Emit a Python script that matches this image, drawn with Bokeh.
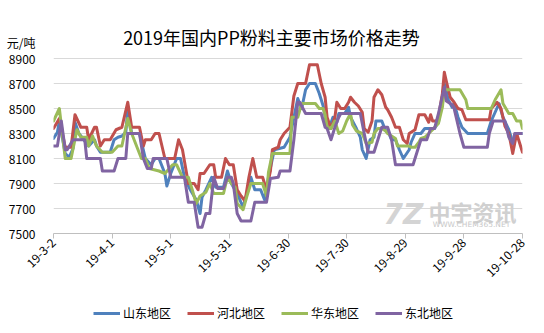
import math
from datetime import datetime
from bokeh.plotting import figure
from bokeh.layouts import column
from bokeh.models import (FixedTicker, Label, Legend, LegendItem, Range1d)
from bokeh.embed import file_html
from bokeh.resources import INLINE

YEAR = 2019
TITLE = "2019年国内PP粉料主要市场价格走势"
UNIT = "元/吨"
FONT = "Noto Sans CJK SC"

series_names = ["山东地区", "河北地区", "华东地区", "东北地区"]
series_colors = ["#4F81BD", "#C0504D", "#9BBB59", "#8064A2"]

# 山东地区
blue_dates = ["3-2","3-4","3-5","3-8","3-10","3-12","3-13","3-15","3-17","3-20",
              "3-23","3-24","3-26","3-31","4-2","4-4","4-6","4-8","4-9","4-11",
              "4-15","4-18","4-21","4-23","4-25","4-28","4-29","5-1","5-4","5-6",
              "5-8","5-11","5-14","5-16","5-17","5-19","5-22","5-24","5-28","5-30",
              "6-1","6-4","6-7","6-9","6-11","6-13","6-16","6-18","6-20","6-23",
              "6-28","7-1","7-2","7-5","7-7","7-9","7-11","7-14","7-16","7-18",
              "7-20","7-21","7-23","7-25","7-26","7-29","7-31","8-1","8-4","8-6",
              "8-7","8-9","8-11","8-13","8-14","8-17","8-19","8-20","8-22","8-24",
              "8-26","8-28","8-31","9-1","9-3","9-6","9-8","9-13","9-15","9-16",
              "9-18","9-20","9-22","9-23","9-25","9-27","9-30","10-10","10-12","10-16",
              "10-18","10-21","10-23","10-25","10-28"]
blue_vals = [8260,8310,8400,8140,8110,8180,8390,8300,8260,8200,
             8250,8200,8150,8150,8250,8270,8280,8310,8490,8300,
             8300,8100,8050,8100,8100,7980,7880,7980,8100,8100,
             7950,7850,7770,7660,7790,7850,7950,7870,7870,8000,
             7900,7820,7710,7820,7950,7850,7850,7770,7950,8170,
             8190,8270,8350,8580,8500,8650,8700,8700,8620,8520,
             8350,8340,8430,8390,8460,8460,8510,8430,8340,8270,
             8170,8100,8250,8270,8400,8400,8320,8320,8250,8250,
             8170,8100,8170,8230,8300,8300,8340,8340,8390,8490,
             8700,8570,8510,8540,8430,8350,8300,8300,8400,8540,
             8430,8330,8230,8300,8300]

# 河北地区
red_dates = ["3-2","3-5","3-8","3-11","3-13","3-16","3-19","3-20","3-23","3-24",
             "3-26","3-28","3-31","4-3","4-6","4-9","4-11","4-15","4-17","4-18",
             "4-21","4-23","4-25","4-28","5-3","5-5","5-7","5-10","5-13","5-15",
             "5-16","5-18","5-21","5-23","5-24","5-27","5-29","5-31","6-2","6-4",
             "6-6","6-8","6-10","6-12","6-14","6-17","6-19","6-21","6-22","6-25",
             "6-26","6-28","7-1","7-3","7-5","7-9","7-11","7-15","7-17","7-19",
             "7-20","7-22","7-24","7-25","7-27","7-29","7-31","8-1","8-3","8-5",
             "8-7","8-8","8-10","8-12","8-13","8-15","8-17","8-19","8-20","8-22",
             "8-24","8-26","8-28","8-30","8-31","9-3","9-5","9-8","9-10","9-11",
             "9-12","9-14","9-15","9-17","9-18","9-19","9-21","9-23","9-25","9-27",
             "9-29","10-11","10-12","10-15","10-17","10-19","10-21","10-23","10-25","10-28"]
red_vals = [8340,8420,8190,8190,8450,8350,8350,8250,8350,8350,
            8200,8250,8250,8330,8350,8550,8350,8350,8200,8250,
            8250,8300,8300,8100,8100,8250,8170,7900,7900,7850,
            7980,7980,8050,8050,7950,7950,8100,8050,8050,7850,
            7800,7760,7950,8100,7950,7950,7850,8000,8170,8190,
            8250,8300,8350,8600,8700,8700,8850,8850,8700,8590,
            8430,8340,8430,8550,8500,8500,8550,8590,8550,8520,
            8470,8340,8310,8400,8590,8650,8610,8510,8490,8430,
            8350,8350,8250,8220,8300,8330,8450,8450,8390,8450,
            8400,8400,8430,8620,8790,8720,8590,8550,8500,8490,
            8410,8410,8500,8550,8500,8360,8300,8140,8300,8150]

# 华东地区
green_dates = ["3-2","3-5","3-8","3-11","3-14","3-16","3-19","3-20","3-22","3-24",
               "3-27","4-1","4-4","4-6","4-9","4-11","4-16","4-18","4-20","4-25",
               "4-28","5-2","5-4","5-7","5-10","5-12","5-14","5-16","5-19","5-21",
               "5-23","5-28","5-30","6-1","6-3","6-4","6-7","6-9","6-11","6-17",
               "6-19","6-20","6-22","7-1","7-2","7-5","7-7","7-14","7-16","7-18",
               "7-19","7-20","7-22","7-24","7-26","7-28","7-30","8-1","8-2","8-4",
               "8-7","8-9","8-12","8-13","8-15","8-17","8-19","8-20","8-24","8-25",
               "8-31","9-1","9-3","9-5","9-6","9-8","9-10","9-12","9-13","9-15",
               "9-17","9-18","9-26","9-29","9-30","10-12","10-14","10-17","10-18","10-21",
               "10-23","10-25","10-27","10-28"]
green_vals = [8400,8500,8100,8100,8330,8270,8270,8200,8280,8200,
              8150,8150,8200,8200,8420,8300,8100,8100,8020,8000,
              7980,8050,8050,7950,7950,7850,7740,7800,7830,7900,
              7820,7820,7950,7900,7870,7740,7690,7800,7900,7900,
              7800,7990,8140,8140,8430,8430,8540,8540,8500,8500,
              8450,8350,8340,8400,8300,8320,8400,8460,8370,8320,
              8300,8220,8230,8300,8340,8340,8320,8300,8260,8200,
              8200,8190,8190,8230,8260,8270,8300,8330,8350,8380,
              8510,8650,8650,8570,8500,8500,8570,8650,8540,8460,
              8460,8400,8400,8340]

# 东北地区
purple_dates = ["3-2","3-4","3-6","3-8","3-9","3-12","3-18","3-19","3-26","3-27",
                "4-2","4-4","4-8","4-9","4-15","4-17","4-19","4-21","4-22","4-29",
                "5-1","5-8","5-10","5-13","5-15","5-17","5-19","5-21","5-23","5-25",
                "5-28","5-30","6-1","6-2","6-4","6-6","6-11","6-13","6-19","6-21",
                "6-25","6-26","7-1","7-3","7-5","7-6","7-9","7-17","7-19","7-20",
                "7-22","7-24","7-26","7-27","8-6","8-8","8-10","8-13","8-15","8-17",
                "8-20","8-22","8-24","9-2","9-4","9-6","9-9","9-11","9-13","9-15",
                "9-18","9-19","9-22","9-23","9-26","9-28","10-10","10-11","10-13","10-19",
                "10-21","10-23","10-24","10-28"]
purple_vals = [8200,8200,8400,8170,8170,8250,8250,8100,8100,8000,
               8000,8100,8100,8300,8300,8100,8020,8020,8100,8100,
               7950,7950,7750,7750,7550,7550,7660,7660,7950,7860,
               7860,7950,7950,7900,7660,7600,7600,7750,7750,7940,
               7950,8000,8000,8250,8550,8550,8460,8460,8350,8340,
               8250,8350,8430,8460,8460,8300,8150,8150,8250,8350,
               8350,8250,8050,8050,8150,8250,8250,8340,8340,8460,
               8670,8560,8530,8500,8300,8190,8190,8300,8400,8400,
               8270,8220,8300,8300]

tick_dates = ["3-2","4-1","5-1","5-31","6-30","7-30","8-29","9-28","10-28"]
tick_labels = ["19-3-2","19-4-1","19-5-1","19-5-31","19-6-30","19-7-30","19-8-29","19-9-28","19-10-28"]
y_ticks = [7500, 7700, 7900, 8100, 8300, 8500, 8700, 8900]


def to_dt(s):
    return datetime.strptime(f"{YEAR}-{s}", "%Y-%m-%d")


def to_ms(d):
    return int((d - datetime(1970, 1, 1)).total_seconds() * 1000)


# layout: main plot frame spans from canvas top down to the 7500 line (y=233);
# the value scale occupies y 58..233, the upper strip holds title and unit.
MAIN_H, LEG_H = 290, 43
FRAME_BOTTOM, AXIS_TOP = 233, 58
L_BORDER, R_BORDER = 53, 22
units_per_px = (y_ticks[-1] - y_ticks[0]) / (FRAME_BOTTOM - AXIS_TOP)
y_top = y_ticks[-1] + AXIS_TOP * units_per_px
unit_pos = float(round(y_ticks[-1] + (AXIS_TOP - 42) * units_per_px))  # unit text sits above the scale

p = figure(width=544, height=MAIN_H, x_axis_type="datetime",
           output_backend="svg", toolbar_location=None,
           x_range=Range1d(to_dt(tick_dates[0]), to_dt(tick_dates[-1])),
           y_range=Range1d(y_ticks[0], y_top),
           min_border_left=L_BORDER, min_border_right=R_BORDER,
           min_border_top=0, min_border_bottom=MAIN_H - FRAME_BOTTOM)
p.outline_line_color = None

all_series = [(blue_dates, blue_vals), (red_dates, red_vals),
              (green_dates, green_vals), (purple_dates, purple_vals)]
for (ds, vs), col in zip(all_series, series_colors):
    p.line([to_dt(s) for s in ds], vs, line_color=col, line_width=3,
           line_join="round", line_cap="round")

tick_ms = [to_ms(to_dt(s)) for s in tick_dates]
p.xaxis.ticker = FixedTicker(ticks=tick_ms)
p.xaxis.major_label_overrides = {t: l for t, l in zip(tick_ms, tick_labels)}
p.xaxis.major_label_orientation = math.pi / 4
p.xaxis.axis_line_color = "#BFBFBF"
p.xaxis.major_tick_line_color = "#BFBFBF"
p.xaxis.major_tick_in = 0
p.xaxis.major_tick_out = 5
p.xaxis.minor_tick_line_color = None
p.xaxis.major_label_text_font = FONT
p.xaxis.major_label_text_font_size = "12px"
p.xaxis.major_label_text_color = "#000000"
p.xaxis.major_label_standoff = 2

p.yaxis.ticker = FixedTicker(ticks=y_ticks + [unit_pos])
p.yaxis.major_label_overrides = {unit_pos: UNIT}
p.yaxis.axis_line_color = None
p.yaxis.major_tick_line_color = None
p.yaxis.minor_tick_line_color = None
p.yaxis.major_label_text_font = FONT
p.yaxis.major_label_text_font_size = "12px"
p.yaxis.major_label_text_color = "#000000"
p.yaxis.major_label_standoff = 12

p.xgrid.grid_line_color = None
p.ygrid.ticker = FixedTicker(ticks=y_ticks)
p.ygrid.grid_line_color = "#D9D9D9"
p.ygrid.grid_line_width = 1

# title (screen units from frame bottom-left)
p.add_layout(Label(x=271 - L_BORDER, y=FRAME_BOTTOM - 36, x_units="screen", y_units="screen",
                   text=TITLE, text_font=FONT, text_font_size="18px", text_color="#000000",
                   text_align="center", text_baseline="middle"))

# watermark
p.add_layout(Label(x=350, y=19, x_units="screen", y_units="screen", text="7Z",
                   text_font="DejaVu Sans", text_font_style="bold italic",
                   text_font_size="28px", text_color="#D4D4D4",
                   text_align="center", text_baseline="middle"))
p.add_layout(Label(x=419, y=23, x_units="screen", y_units="screen", text="中宇资讯",
                   text_font=FONT, text_font_style="bold", text_font_size="22px",
                   text_color="#D0D0D0", text_align="center", text_baseline="middle"))
p.add_layout(Label(x=418, y=9, x_units="screen", y_units="screen", text="WWW.CHEM365.NET",
                   text_font="DejaVu Sans", text_font_size="7.5px",
                   text_color="#C8C8C8", text_align="center", text_baseline="middle"))

# ---- legend strip ----
lg = figure(width=544, height=LEG_H, output_backend="svg", toolbar_location=None,
            x_range=Range1d(0, 1), y_range=Range1d(0, 1),
            min_border_left=L_BORDER, min_border_right=R_BORDER,
            min_border_top=0, min_border_bottom=0)
lg.axis.visible = False
lg.grid.visible = False
lg.outline_line_color = None
nan = float("nan")
keys = [lg.line(x=[nan], y=[nan], line_color=c, line_width=3) for c in series_colors]
legend = Legend(items=[LegendItem(label=n, renderers=[r]) for n, r in zip(series_names, keys)],
                orientation="horizontal", location=(93 - L_BORDER, LEG_H - 23 - 8),
                glyph_width=27, glyph_height=16, label_standoff=3, spacing=16,
                padding=0, margin=0, border_line_color=None, background_fill_alpha=0,
                label_text_font=FONT, label_text_font_size="12px",
                label_text_color="#000000", label_height=16)
lg.add_layout(legend)

layout = column(p, lg, spacing=0)
open("out.html", "w").write(file_html(layout, INLINE))
